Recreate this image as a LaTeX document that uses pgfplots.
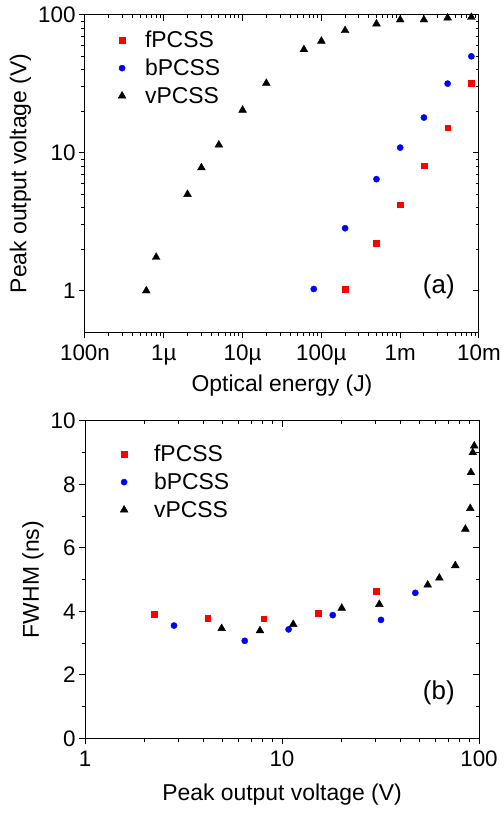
\documentclass[border=0pt]{standalone}
\usepackage{fontspec}
\setmainfont{Liberation Sans}
\usepackage{pgfplots}
\usepackage{pgfplotstable}
\pgfplotsset{compat=1.18}

% (a) peak voltage vs optical energy
\pgfplotstableread{
x y
2e-4 1.03
5e-4 2.22
1e-3 4.2
2e-3 8.05
4e-3 15.2
8e-3 31.9
}\fa
\pgfplotstableread{
x y
8e-5 1.03
2e-4 2.84
5e-4 6.44
1e-3 10.9
2e-3 18.0
4e-3 31.7
8e-3 50
}\ba
\pgfplotstableread{
x y
6e-7 1.0
8e-7 1.75
2e-6 5.0
3e-6 7.8
5e-6 11.4
1e-5 20.4
2e-5 31.9
6e-5 56
1e-4 64.5
2e-4 77
5e-4 86
1e-3 92
2e-3 92
4e-3 95
8e-3 96
}\va
% (b) FWHM vs peak voltage
\pgfplotstableread{
x y
2.24 3.91
4.2 3.79
8.07 3.77
15.2 3.93
30.1 4.64
}\fb
\pgfplotstableread{
x y
2.83 3.55
6.47 3.07
10.8 3.43
18.1 3.88
31.8 3.73
47.5 4.58
}\bb
\pgfplotstableread{
x y
4.94 3.46
7.73 3.39
11.4 3.59
20.1 4.10
31.2 4.22
54.9 4.83
62.9 5.05
75.8 5.44
85.3 6.59
90.3 7.24
91 8.37
93 9.0
94.6 9.21
}\vb

\pgfplotsset{
  every axis/.append style={
    scale only axis, width=394bp, height=317.5bp, clip=false,
    font=\fontsize{23}{27}\selectfont,
    tick label style={font=\fontsize{22.5}{26}\selectfont},
    /pgf/number format/assume math mode=true,
    axis line style={line width=1bp},
    major tick length=6bp, minor tick length=3.5bp,
    tick style={black, line width=1bp},
  },
  mainax/.style={tick align=outside, xtick pos=bottom, ytick pos=left,
    xticklabel style={yshift=-3bp}},
  mirrorax/.style={tick align=inside, xtick pos=top, ytick pos=right,
    xticklabels={}, yticklabels={}},
  % marker at the left, blank room up to the text
  lg/.style={legend image code/.code={%
    \draw[mark repeat=2,mark phase=2,##1] plot coordinates {(0bp,0bp)(0bp,0bp)(1bp,0bp)};
    \path[draw=none,fill=none] (0bp,0bp) -- (#1,0bp);}},
  fp/.style={only marks, mark=square*, mark size=2.9bp, color=red, lg=#1},
  bp/.style={only marks, mark=*, mark size=3.1bp, color=blue, lg=#1},
  vp/.style={only marks, mark=triangle*, mark size=4.5bp, color=black, lg=#1},
}

\begin{document}
\begin{tikzpicture}
\useasboundingbox (0,0) rectangle (504bp,813bp);

% top panel
\begin{axis}[mirrorax, at={(85bp,480.7bp)}, anchor=south west,
  xmode=log, ymode=log, xmin=1e-7, xmax=1e-2, ymin=0.5, ymax=100,
  xtick={1e-7,1e-6,1e-5,1e-4,1e-3,1e-2}, ytick={1,10,100}]
\end{axis}
\begin{axis}[mainax, at={(85bp,480.7bp)}, anchor=south west,
  xmode=log, ymode=log, xmin=1e-7, xmax=1e-2, ymin=0.5, ymax=100,
  xtick={1e-7,1e-6,1e-5,1e-4,1e-3,1e-2},
  xticklabels={100n,1µ,10µ,100µ,1m,10m},
  ytick={1,10,100}, yticklabels={1,10,100},
  xlabel={Optical energy (J)}, ylabel={Peak output voltage (V)},
  xlabel style={yshift=-3bp},
  legend style={at={(axis description cs:0,1)}, anchor=north west,
    xshift=33bp, yshift=-15bp, draw=none, fill=none, inner sep=0pt,
    row sep=8bp, nodes={inner sep=1bp}},
  legend cell align=left]
\addplot[fp=22bp] table {\fa};
\addlegendentry{fPCSS}
\addplot[bp=22bp] table {\ba};
\addlegendentry{bPCSS}
\addplot[vp=22bp] table {\va};
\addlegendentry{vPCSS}
\node[font=\fontsize{26}{30}\selectfont] at (axis description cs:0.898,0.142) {(a)};
\end{axis}

% bottom panel
\begin{axis}[mirrorax, at={(85bp,74.7bp)}, anchor=south west,
  xmode=log, xmin=1, xmax=100, ymin=0, ymax=10,
  xtick={1,10,100}, ytick={0,2,4,6,8,10}, minor y tick num=1]
\end{axis}
\begin{axis}[mainax, at={(85bp,74.7bp)}, anchor=south west,
  xmode=log, xmin=1, xmax=100, ymin=0, ymax=10,
  xtick={1,10,100}, xticklabels={1,10,100},
  ytick={0,2,4,6,8,10}, minor y tick num=1,
  xlabel={Peak output voltage (V)}, ylabel={FWHM (ns)},
  xlabel style={yshift=-10bp},
  legend style={at={(axis description cs:0,1)}, anchor=north west,
    xshift=35bp, yshift=-23bp, draw=none, fill=none, inner sep=0pt,
    row sep=8bp, nodes={inner sep=1bp}},
  legend cell align=left]
\addplot[fp=29bp] table {\fb};
\addlegendentry{fPCSS}
\addplot[bp=29bp] table {\bb};
\addlegendentry{bPCSS}
\addplot[vp=29bp] table {\vb};
\addlegendentry{vPCSS}
\node[font=\fontsize{26}{30}\selectfont] at (axis description cs:0.898,0.142) {(b)};
\end{axis}
\end{tikzpicture}
\end{document}
